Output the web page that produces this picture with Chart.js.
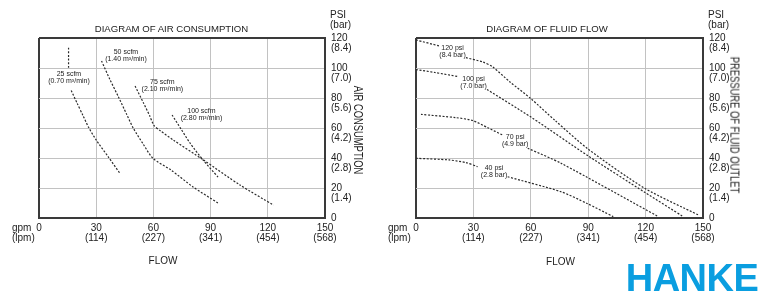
<!DOCTYPE html>
<html>
<head>
<meta charset="utf-8">
<script src="https://cdn.jsdelivr.net/npm/chart.js@4.4.1/dist/chart.umd.min.js"></script>
<style>
  body { margin: 0; background: #fff; }
  #page { position: relative; width: 764px; height: 299px; overflow: hidden;
          font-family: "Liberation Sans", Arial, sans-serif; color: #222; }
  canvas { position: absolute; top: 0; }
  .t { position: absolute; white-space: nowrap; line-height: 1; font-size: 10px; }
  .c { transform: translate(-50%, -50%); }
  .l { transform: translateY(-50%); }
  .title { font-size: 9.6px; }
  .rot { transform: translate(-50%, -50%) rotate(90deg) scaleY(1.3); font-size: 9.4px; }
  .logo { font-size: 38px; font-weight: bold; color: #0a9ee0; letter-spacing: -0.5px; }
</style>
</head>
<body>
<div id="page">
  <canvas id="airChart" width="382" height="299" style="left:0"></canvas>
  <canvas id="fluidChart" width="384" height="299" style="left:380px"></canvas>

  <div class="t c title" style="left:171.5px;top:29px">DIAGRAM OF AIR CONSUMPTION</div>
  <div class="t l" style="left:330px;top:15px">PSI</div>
  <div class="t l" style="left:330px;top:25px">(bar)</div>
  <div class="t l" style="left:12px;top:228px">gpm</div>
  <div class="t l" style="left:12px;top:238px">(lpm)</div>
  <div class="t c" style="left:163px;top:261px">FLOW</div>
  <div class="t rot" style="left:357.5px;top:130px">AIR CONSUMPTION</div>

  <div class="t c title" style="left:547px;top:29px">DIAGRAM OF FLUID FLOW</div>
  <div class="t l" style="left:708px;top:15px">PSI</div>
  <div class="t l" style="left:708px;top:25px">(bar)</div>
  <div class="t l" style="left:388px;top:228px">gpm</div>
  <div class="t l" style="left:388px;top:238px">(lpm)</div>
  <div class="t c" style="left:560.5px;top:261.5px">FLOW</div>
  <div class="t rot" style="left:735px;top:125px">PRESSURE OF FLUID OUTLET</div>

  <div class="t c logo" style="left:692px;top:278px">HANKE</div>
</div>
<script>
// axes
const gpmTicks = [0, 30, 60, 90, 120, 150];
const lpmTicks = ['', '(114)', '(227)', '(341)', '(454)', '(568)'];
const psiTicks = [0, 20, 40, 60, 80, 100, 120];
const barTicks = ['', '(1.4)', '(2.8)', '(4.2)', '(5.6)', '(7.0)', '(8.4)'];

// air consumption curves (null = break where the label sits)
const air25Gpm = [15.5, 15.5, 16.2, 16.9, 20, 23, 26, 30, 36.2, 42.3];
const air25Psi = [113.5, 100, null, 85, 76.5, 68.5, 60.5, 52, 41, 30];
const air50Gpm = [32.8, 37.2, 41.6, 45.9, 49.5, 54.8, 59.8, 69.2, 80.8, 93.9];
const air50Psi = [104.7, 92.3, 80.9, 69.3, 59.8, 49, 39.7, 32, 20.7, 10];
const air75Gpm = [50.4, 54.8, 58, 60.3, 63.5, 70.4, 86.2, 105.4, 122.9];
const air75Psi = [88, 76.7, 68.3, 61.7, 58.3, 52, 38.7, 22, 8.7];
const air100Gpm = [69.8, 74.5, 79.2, 86, 93.9];
const air100Psi = [68.7, 59.3, 50, 38.7, 27.3];

const airLabels = [['25 scfm', '(0.70 m³/min)'], ['50 scfm', '(1.40 m³/min)'],
                   ['75 scfm', '(2.10 m³/min)'], ['100 scfm', '(2.80 m³/min)']];
const airLabelGpm = [15.7, 45.6, 64.7, 85.2];
const airLabelPsi = [93.3, 108.3, 88.5, 69];

// fluid flow curves
const flow120Gpm = [0, 12.2, 19, 26.1, 34.9, 40.1, 49.1, 60.1, 72.7, 90.1, 119.7, 147.6];
const flow120Psi = [118.7, 114.7, null, 106.9, 104, 100.7, 90.7, 79.5, 65, 45.8, 19.7, 2];
const flow100Gpm = [0, 9.9, 22, 30, 37.1, 60.4, 90.1, 119.7, 139.7];
const flow100Psi = [99, 97, 94.3, null, 85.7, 67, 41.3, 17, 0.9];
const flow70Gpm = [2.6, 20.9, 29.6, 37.5, 45.3, 52, 58.4, 75.8, 126.7];
const flow70Psi = [69.1, 66.9, 65, 60.2, 55.3, null, 46.5, 36.5, 0.9];
const flow40Gpm = [0, 17.4, 26.1, 32.2, 40, 47.9, 75.8, 89.4, 103.1];
const flow40Psi = [39.8, 38.7, 36.9, 34.2, null, 27.5, 17.5, 9.7, 0.9];

const flowLabels = [['120 psi', '(8.4 bar)'], ['100 psi', '(7.0 bar)'],
                    ['70 psi', '(4.9 bar)'], ['40 psi', '(2.8 bar)']];
const flowLabelGpm = [19.1, 30.1, 51.8, 40.8];
const flowLabelPsi = [110.9, 90, 51.3, 30.7];

const FONT = '"Liberation Sans", Arial, sans-serif';

function pts(gpm, psi) {
    return gpm.map((x, i) => ({x: x, y: psi[i]}));
}

function curve(gpm, psi) {
    return {
        data: pts(gpm, psi),
        borderColor: '#2a2a2a',
        borderWidth: 1.2,
        borderDash: [2, 1.6],
        pointRadius: 0,
        tension: 0.25,
        fill: false
    };
}

// small two-line labels next to the curves, anchored in data units
function curveLabels(text, gpm, psi) {
    return {
        id: 'curveLabels',
        afterDatasetsDraw(chart) {
            const ctx = chart.ctx, xs = chart.scales.x, ys = chart.scales.y;
            ctx.save();
            ctx.font = '7px ' + FONT;
            ctx.fillStyle = '#222';
            ctx.textAlign = 'center';
            ctx.textBaseline = 'middle';
            text.forEach((lines, i) => {
                const px = xs.getPixelForValue(gpm[i]);
                const py = ys.getPixelForValue(psi[i]);
                lines.forEach((s, j) => ctx.fillText(s, px, py + (j - (lines.length - 1) / 2) * 7));
            });
            ctx.restore();
        }
    };
}

function edgeColor(edges) {
    return c => (c.tick && edges.includes(c.tick.value)) ? '#3a3a3a' : '#c2c2c2';
}
function edgeWidth(edges) {
    return c => (c.tick && edges.includes(c.tick.value)) ? 2 : 1;
}

function makeChart(id, datasets, padLeft, yWidth, labelPlugin) {
    return new Chart(document.getElementById(id), {
        type: 'line',
        data: { datasets: datasets },
        options: {
            responsive: false,
            animation: false,
            layout: { padding: { left: padLeft, top: 38, right: 0, bottom: 0 } },
            plugins: { legend: { display: false }, tooltip: { enabled: false } },
            scales: {
                x: {
                    type: 'linear', min: 0, max: 150,
                    grid: { color: edgeColor([0, 150]), lineWidth: edgeWidth([0, 150]), drawTicks: false },
                    border: { color: '#3a3a3a', width: 2 },
                    ticks: {
                        stepSize: 30, autoSkip: false, maxRotation: 0, padding: 5, color: '#222',
                        font: { family: FONT, size: 10, lineHeight: 1 },
                        callback: v => [String(v), lpmTicks[gpmTicks.indexOf(v)] || '']
                    },
                    afterFit: s => { s.height = 81; }
                },
                y: {
                    type: 'linear', position: 'right', min: 0, max: 120,
                    grid: { color: edgeColor([120]), lineWidth: edgeWidth([120]), drawTicks: false },
                    border: { color: '#3a3a3a', width: 2 },
                    ticks: {
                        stepSize: 20, padding: 6, labelOffset: 5, color: '#222',
                        font: { family: FONT, size: 10, lineHeight: 1 },
                        callback: v => [String(v), barTicks[psiTicks.indexOf(v)] || '']
                    },
                    afterFit: s => { s.width = yWidth; }
                }
            }
        },
        plugins: [labelPlugin]
    });
}

makeChart('airChart', [
    curve(air25Gpm, air25Psi),
    curve(air50Gpm, air50Psi),
    curve(air75Gpm, air75Psi),
    curve(air100Gpm, air100Psi)
], 39, 57, curveLabels(airLabels, airLabelGpm, airLabelPsi));

makeChart('fluidChart', [
    curve(flow120Gpm, flow120Psi),
    curve(flow100Gpm, flow100Psi),
    curve(flow70Gpm, flow70Psi),
    curve(flow40Gpm, flow40Psi)
], 36, 61, curveLabels(flowLabels, flowLabelGpm, flowLabelPsi));
</script>
</body>
</html>
